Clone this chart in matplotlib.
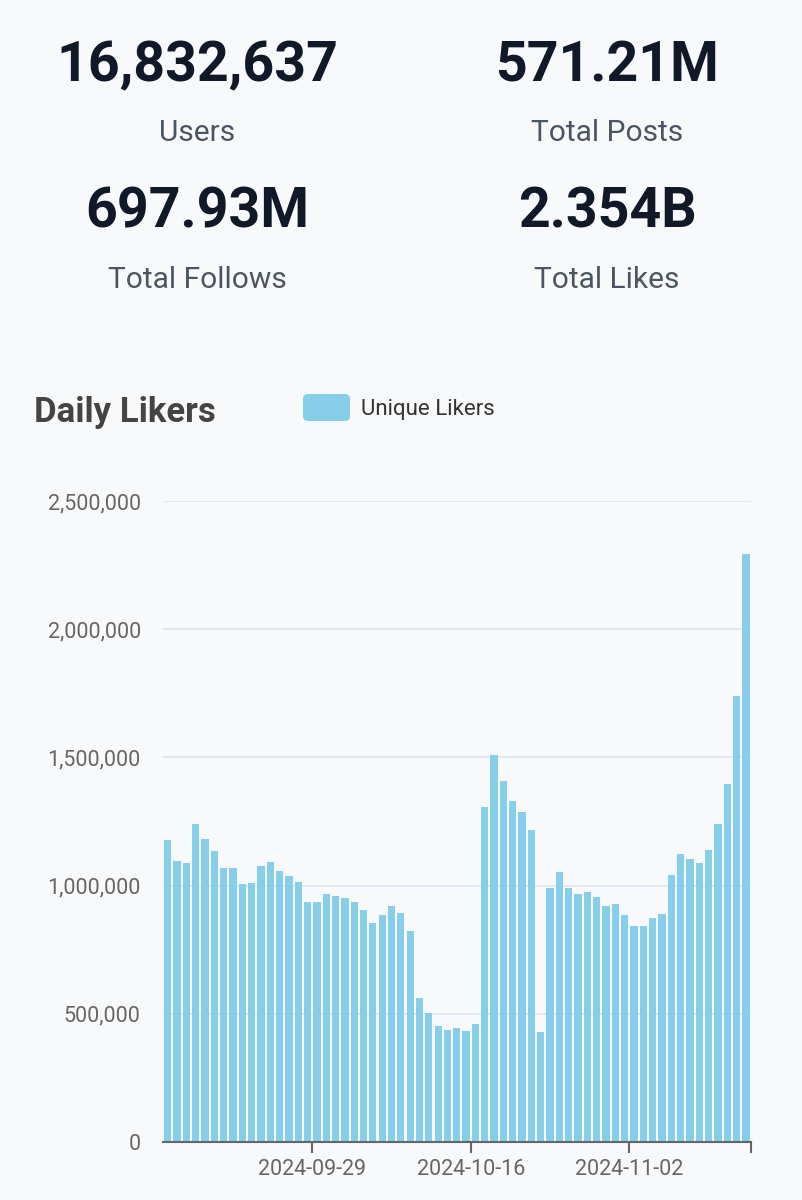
import numpy as np
import pandas as pd
import matplotlib
matplotlib.use("Agg")
import matplotlib.pyplot as plt
from matplotlib.patches import FancyBboxPatch
from matplotlib.ticker import FuncFormatter, FixedLocator

plt.rcParams['font.family'] = ['Roboto', 'DejaVu Sans']

# summary stats at the top
stat_values = ["16,832,637", "571.21M", "697.93M", "2.354B"]
stat_labels = ["Users", "Total Posts", "Total Follows", "Total Likes"]

# daily unique likers
dates = pd.date_range("2024-09-13", periods=63, freq="D")
likers = [1178000, 1095000, 1088000, 1239000, 1183000, 1134000, 1069000, 1069000,
          1007000, 1011000, 1076000, 1091000, 1057000, 1039000, 1015000, 935000,
          935000, 967000, 961000, 950000, 936000, 905000, 854000, 885000,
          920000, 893000, 823000, 563000, 503000, 452000, 437000, 445000,
          432000, 459000, 1305000, 1511000, 1407000, 1331000, 1287000, 1217000,
          429000, 989000, 1053000, 992000, 967000, 975000, 956000, 919000,
          928000, 884000, 841000, 842000, 875000, 889000, 1041000, 1122000,
          1103000, 1088000, 1139000, 1241000, 1398000, 1741000, 2294000]
tick_dates = ["2024-09-29", "2024-10-16", "2024-11-02"]
y_ticks = [0, 500000, 1000000, 1500000, 2000000, 2500000]

bg = '#f8f9fb'
fig = plt.figure(figsize=(8.03, 12), dpi=100, facecolor=bg)

# stat blocks
xs = [0.2453, 0.756, 0.2453, 0.756]
num_y = [0.9325, 0.9325, 0.81, 0.81]
lab_y = [0.8825, 0.8825, 0.76, 0.76]
for i in range(4):
    fig.text(xs[i], num_y[i], stat_values[i], ha='center', va='baseline',
             fontsize=40, fontweight='bold', color='#111827')
    fig.text(xs[i], lab_y[i], stat_labels[i], ha='center', va='baseline',
             fontsize=21.5, color='#4b5563')

# title + legend
fig.text(34 / 803, 1 - 422 / 1200, "Daily Likers", ha='left', va='baseline',
         fontsize=25, fontweight='bold', color='#444444')
box = FancyBboxPatch((3.03, (1200 - 421) / 100), 0.47, 0.27,
                     boxstyle="round,pad=0,rounding_size=0.05",
                     transform=fig.dpi_scale_trans, facecolor='#87ceeb',
                     edgecolor='none')
fig.patches.append(box)
fig.text(361 / 803, 1 - 415 / 1200, "Unique Likers", ha='left', va='baseline',
         fontsize=16, color='#333333')

# bar chart
ax = fig.add_axes([163 / 803, 58 / 1200, (750.6 - 163) / 803, (1142 - 501) / 1200])
ax.set_facecolor(bg)
x = np.arange(len(likers))
ax.bar(x, likers, width=0.78, color='#87ceeb', edgecolor='none', zorder=2)
ax.set_xlim(-0.5, len(likers) - 0.5)
ax.set_ylim(0, 2500000)

ax.set_yticks(y_ticks)
ax.yaxis.set_major_formatter(FuncFormatter(lambda v, p: f"{int(v):,}"))
ax.grid(axis='y', color='#e1e6f0', linewidth=1.3, zorder=0)
ax.tick_params(axis='y', length=0, pad=16, labelsize=15.5, labelcolor='#666666')

tick_pos = [list(dates.strftime("%Y-%m-%d")).index(d) - 0.5 for d in tick_dates]
ax.set_xticks(tick_pos)
ax.set_xticklabels(tick_dates)
ax.xaxis.set_minor_locator(FixedLocator([len(likers) - 0.5]))
ax.tick_params(axis='x', which='both', length=8, width=1.5, color='#666666',
               labelsize=15.5, labelcolor='#666666', pad=4)

for s in ['top', 'right', 'left']:
    ax.spines[s].set_visible(False)
ax.spines['bottom'].set_color('#666666')
ax.spines['bottom'].set_linewidth(1.5)

fig.savefig("out.png", dpi=100, facecolor=bg)
